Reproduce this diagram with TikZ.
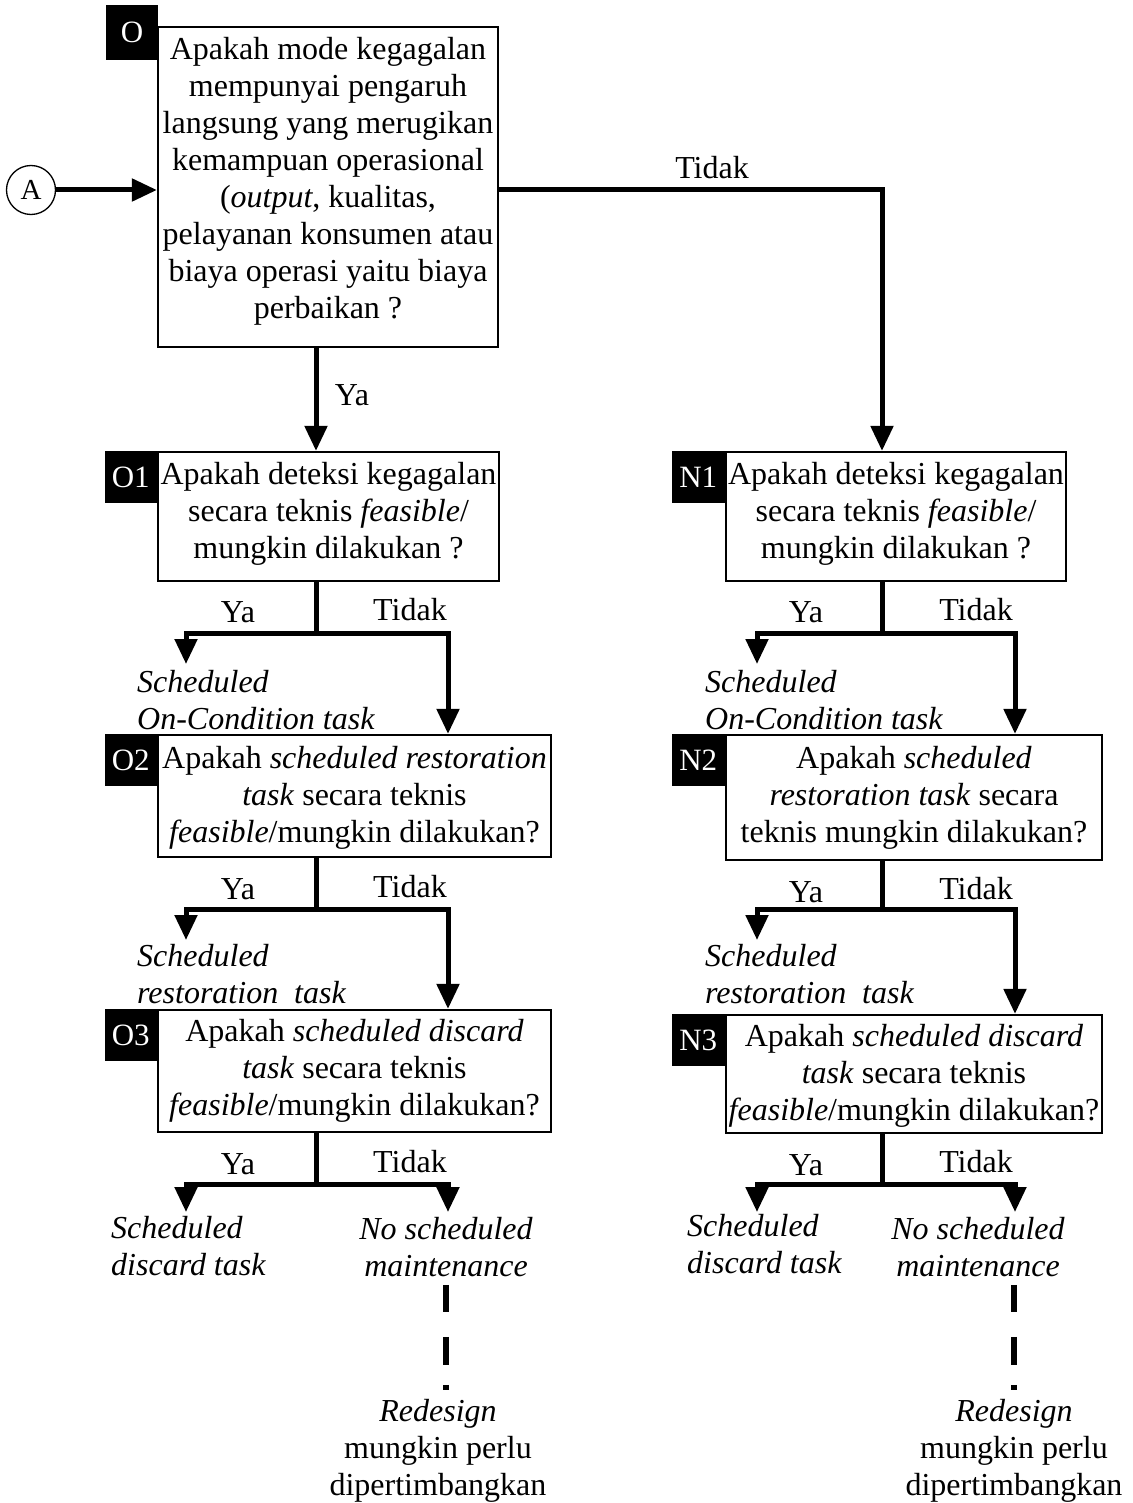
\documentclass[tikz,border=0pt]{standalone}
\usepackage{fontspec}
\setmainfont{Liberation Serif}
\usetikzlibrary{arrows.meta}
\newcommand\lowstrut[1]{\rule[-#1]{0pt}{#1}}
\newcommand\highstrut[1]{\rule{0pt}{#1}}
\begin{document}
\begin{tikzpicture}[x=1pt,y=-1pt,
  every node/.style={font=\fontsize{32}{37}\selectfont, inner sep=1pt},
  qbox/.style={draw, line width=2.2pt, align=center, inner sep=0pt},
  tag/.style={fill=black, text=white, minimum width=52pt, minimum height=52pt, inner sep=0pt, font=\fontsize{31}{31}\selectfont},
  flow/.style={line width=5pt, -{Triangle[width=22pt,length=25pt]}},
  trunk/.style={line width=5pt},
  ans/.style={anchor=base},
  outc/.style={align=left, anchor=west, font=\fontsize{32}{37}\selectfont\itshape},
  outm/.style={align=center, font=\fontsize{32}{37}\selectfont\itshape},
  redes/.style={align=center},
  dashline/.style={line width=6pt, dash pattern=on 0pt off 7pt on 27pt off 25pt on 28pt off 20pt on 5pt off 80pt}
]
\useasboundingbox (0,0) rectangle (1132,1503);

% start circle
\node[draw, circle, line width=1.3pt, minimum size=49pt, inner sep=0pt, font=\fontsize{29}{29}\selectfont] (a) at (31,190) {A};

% boxes
\node[qbox, minimum width=340pt, minimum height=320pt] (o0) at (328,187) {Apakah mode kegagalan\\ mempunyai pengaruh\\ langsung yang merugikan\\ kemampuan operasional\\ (\textit{output}, kualitas,\\ pelayanan konsumen atau\\ biaya operasi yaitu biaya\\ perbaikan ?\lowstrut{18pt}};
\node[qbox, minimum width=341pt, minimum height=129pt] (o1) at (328.5,516.5) {Apakah deteksi kegagalan\\ secara teknis \textit{feasible}/\\ mungkin dilakukan ?\lowstrut{12pt}};
\node[qbox, minimum width=340pt, minimum height=129pt] (n1) at (896,516.5) {Apakah deteksi kegagalan\\ secara teknis \textit{feasible}/\\ mungkin dilakukan ?\lowstrut{12pt}};
\node[qbox, minimum width=393pt, minimum height=122pt] (o2) at (354.5,796) {\highstrut{26pt}Apakah \textit{scheduled restoration}\\ \textit{task} secara teknis\\ \textit{feasible}/mungkin dilakukan?};
\node[qbox, minimum width=376pt, minimum height=125pt] (n2) at (914,797.5) {Apakah \textit{scheduled}\\ \textit{restoration task} secara\\ teknis mungkin dilakukan?};
\node[qbox, minimum width=393pt, minimum height=122pt] (o3) at (354.5,1071) {Apakah \textit{scheduled discard}\\ \textit{task} secara teknis\\ \textit{feasible}/mungkin dilakukan?};
\node[qbox, minimum width=376pt, minimum height=118pt] (n3) at (914,1074) {\highstrut{26pt}Apakah \textit{scheduled discard}\\ \textit{task} secara teknis\\ \textit{feasible}/mungkin dilakukan?};

% tags
\node[tag, minimum height=55pt] (t0) at (132,32.5) {O};
\node[tag, anchor=north east] (t1) at (o1.north west) {O1};
\node[tag, anchor=north east] (t2) at (o2.north west) {O2};
\node[tag, anchor=north east] (t3) at (o3.north west) {O3};
\node[tag, anchor=north east, minimum width=53pt] (tn1) at (n1.north west) {N1};
\node[tag, anchor=north east, minimum width=53pt] (tn2) at (n2.north west) {N2};
\node[tag, anchor=north east, minimum width=53pt] (tn3) at (n3.north west) {N3};

% outcomes
\node[outc] (s1) at (136,700.5) {Scheduled\\On-Condition task};
\node[outc] (sn1) at (704,700.5) {Scheduled\\On-Condition task};
\node[outc] (s2) at (136,974.5) {Scheduled\\restoration\ \ task};
\node[outc] (sn2) at (704,974.5) {Scheduled\\restoration\ \ task};
\node[outc] (s3) at (110,1246) {Scheduled\\discard task};
\node[outc] (sn3) at (686,1244) {Scheduled\\discard task};
\node[outm] (nsmO) at (446,1247) {No scheduled\\maintenance};
\node[outm] (nsmN) at (978,1247) {No scheduled\\maintenance};
\node[redes] (redO) at (438,1450.5) {\textit{Redesign}\\mungkin perlu\\dipertimbangkan};
\node[redes] (redN) at (1014,1450.5) {\textit{Redesign}\\mungkin perlu\\dipertimbangkan};

% free-end coordinates
\coordinate (y1) at (186,664);
\coordinate (y2) at (186,940);
\coordinate (y3) at (186,1212);
\coordinate (yn1) at (757,664);
\coordinate (yn2) at (757,940);
\coordinate (yn3) at (757,1212);
\coordinate (no3) at (448,1212);
\coordinate (nn3) at (1015,1212);

% connectors
\draw[flow] (a) -- (a -| o0.west);
\draw[flow] (a -| o0.east) -| ([xshift=-14pt]n1.north);
\draw[flow] ([xshift=-12pt]o0.south) -- ([xshift=-12pt]o0.south |- o1.north);

\draw[trunk] ([xshift=-12.5pt]o1.south) -- ++(0,51) coordinate (j1);
\draw[flow] (j1) -| (y1);
\draw[flow] (j1) -| ([xshift=93.5pt]o2.north);

\draw[trunk] ([xshift=-14pt]n1.south) -- ++(0,51) coordinate (jn1);
\draw[flow] (jn1) -| (yn1);
\draw[flow] (jn1) -| ([xshift=101pt]n2.north);

\draw[trunk] ([xshift=-38.5pt]o2.south) -- ++(0,51) coordinate (j2);
\draw[flow] (j2) -| (y2);
\draw[flow] (j2) -| ([xshift=93.5pt]o3.north);

\draw[trunk] ([xshift=-32pt]n2.south) -- ++(0,48) coordinate (jn2);
\draw[flow] (jn2) -| (yn2);
\draw[flow] (jn2) -| ([xshift=101pt]n3.north);

\draw[trunk] ([xshift=-38.5pt]o3.south) -- ++(0,51) coordinate (j3);
\draw[flow] (j3) -| (y3);
\draw[flow] (j3) -| (no3);

\draw[trunk] ([xshift=-32pt]n3.south) -- ++(0,50) coordinate (jn3);
\draw[flow] (jn3) -| (yn3);
\draw[flow] (jn3) -| (nn3);

\draw[dashline] (nsmO.south) -- (nsmO.south |- redO.north);
\draw[dashline] (redN.north |- nsmN.south) -- (redN.north);

% answer labels
\node[ans] (l0t) at (712,179) {Tidak};
\node[ans] (l0y) at (352,405) {Ya};
\node[ans] (l1y) at (238,622) {Ya};
\node[ans] (l1t) at (410,620) {Tidak};
\node[ans] (ln1y) at (806,622) {Ya};
\node[ans] (ln1t) at (976,620) {Tidak};
\node[ans] (l2y) at (238,899) {Ya};
\node[ans] (l2t) at (410,897) {Tidak};
\node[ans] (ln2y) at (806,902) {Ya};
\node[ans] (ln2t) at (976,899) {Tidak};
\node[ans] (l3y) at (238,1174) {Ya};
\node[ans] (l3t) at (410,1172) {Tidak};
\node[ans] (ln3y) at (806,1175) {Ya};
\node[ans] (ln3t) at (976,1172) {Tidak};
\end{tikzpicture}
\end{document}
